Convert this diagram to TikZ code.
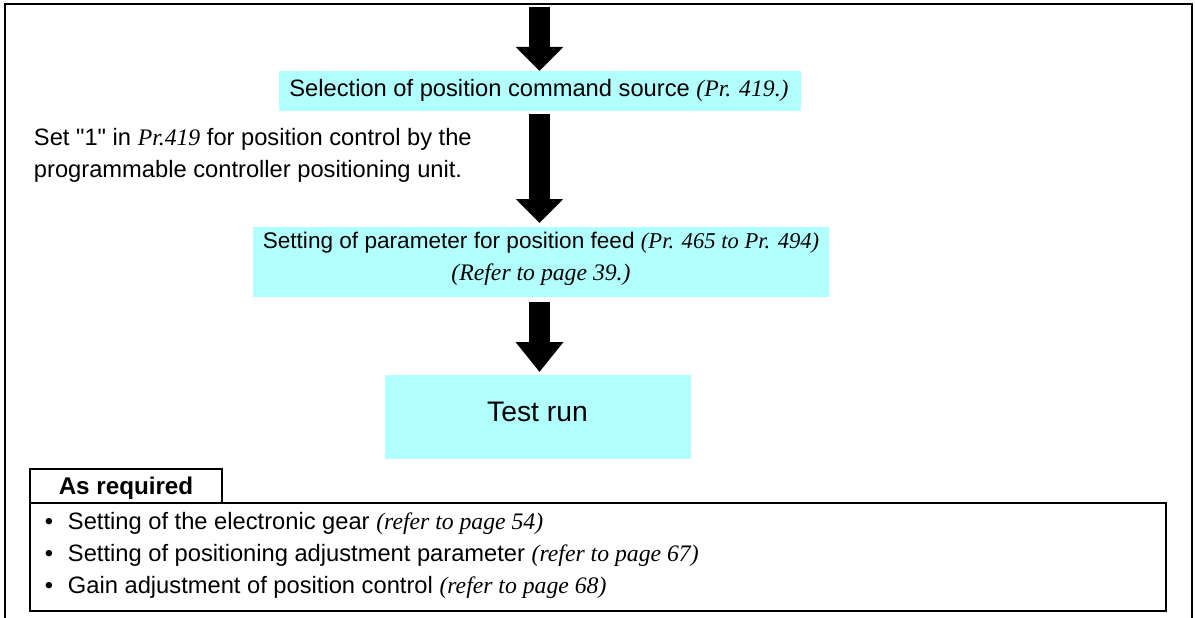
\documentclass[tikz,border=0pt]{standalone}
\usepackage{fontspec}
\setmainfont{Liberation Sans}[Ligatures=TeXOff]
\newfontfamily\timesfam{Liberation Serif}
\usetikzlibrary{arrows.meta}
\definecolor{boxcyan}{HTML}{B2FFFF}
\newcommand{\refit}[1]{{\timesfam\itshape #1}}
\begin{document}
\begin{tikzpicture}[x=1pt,y=-1pt,
  every node/.style={inner sep=0pt, outer sep=0pt},
  stepbox/.style={fill=boxcyan, draw=none},
  txt/.style={anchor=base},
  txtw/.style={anchor=base west},
  bigarrow/.style={line width=21pt, -{Triangle[width=46pt,length=24pt]}},
  bigarrowb/.style={line width=21pt, -{Triangle[width=46pt,length=30pt]}},
  framebox/.style={draw, line width=2pt},
  font=\fontsize{23.7}{27}\selectfont]
\useasboundingbox (0,0) rectangle (1195,618);
% outer frame
\draw[line width=2.2pt] (5,618) -- (5,4) -- (1192,4) -- (1192,618);

% step boxes
\node[stepbox, minimum width=522pt, minimum height=40pt] (box1) at (540,91) {};
\node[txt] (box1t) at (539,96) {Selection of position command source \refit{(Pr. 419.)}};

\node[stepbox, minimum width=576pt, minimum height=70pt] (box2) at (541,262) {};
\node[txt, font=\fontsize{22.6}{27}\selectfont] (box2a) at (541,248) {Setting of parameter for position feed \refit{(Pr. 465 to Pr. 494)}};
\node[txt] (box2b) at (541,280) {\refit{(Refer to page 39.)}};

\node[stepbox, minimum width=306pt, minimum height=84pt] (box3) at (538,417) {};
\node[txt, font=\fontsize{28.3}{32}\selectfont] (box3t) at (537.5,421) {Test run};

% side note
\node[txtw] (note1) at (34,145) {Set "1" in \refit{Pr.419} for position control by the};
\node[txtw] (note2) at (34,177) {programmable controller positioning unit.};

% arrows
\coordinate (start) at (539.5,7);
\draw[bigarrow] (start) -- (start |- box1.north);
\draw[bigarrow, shorten <=3pt, shorten >=4pt] (box1.south -| start) -- (box2.north -| start);
\draw[bigarrowb, shorten <=5pt, shorten >=3pt] (box2.south -| start) -- (box3.north -| start);

% as required
\node[framebox, minimum width=1136pt, minimum height=108pt] (req) at (598,557) {};
\node[framebox, minimum width=192pt, minimum height=34pt] (tab) at (126,486) {};
\node[txt, font=\fontsize{24.2}{27}\selectfont\bfseries] (tabt) at (126,494) {As required};
\node[txtw] (item1) at (45,529) {\makebox[23pt][l]{•}Setting of the electronic gear \refit{(refer to page 54)}};
\node[txtw] (item2) at (45,561) {\makebox[23pt][l]{•}Setting of positioning adjustment parameter \refit{(refer to page 67)}};
\node[txtw] (item3) at (45,593) {\makebox[23pt][l]{•}Gain adjustment of position control \refit{(refer to page 68)}};
\end{tikzpicture}
\end{document}
